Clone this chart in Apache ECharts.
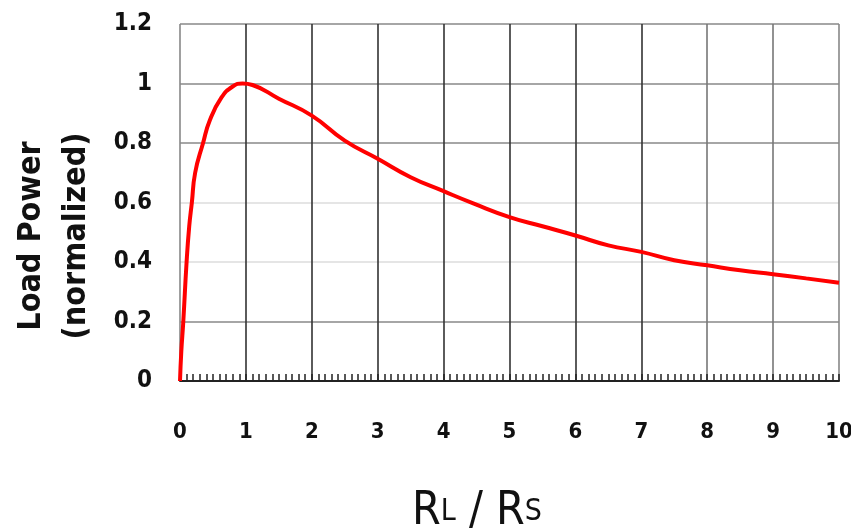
<!DOCTYPE html>
<html><head><meta charset="utf-8">
<script src="https://cdn.jsdelivr.net/npm/echarts@6/dist/echarts.min.js"></script>
<style>html,body{margin:0;padding:0;background:#fff}#c{width:851px;height:532px}</style>
</head><body><div id="c"></div>
<script>
const ratioX = [0, 0.02, 0.05, 0.1, 0.14, 0.18, 0.23, 0.35, 0.45, 0.63, 0.8, 0.95, 1.1, 1.5, 2, 2.5, 3, 3.5, 4, 4.45, 5, 5.5, 6, 6.5, 7, 7.5, 8, 8.5, 9, 9.5, 10];
const loadPower = [0, 0.1, 0.2, 0.4, 0.52, 0.6, 0.7, 0.8, 0.875, 0.953, 0.99, 1.0, 0.995, 0.949, 0.892, 0.808, 0.747, 0.685, 0.638, 0.597, 0.551, 0.52, 0.489, 0.456, 0.434, 0.406, 0.389, 0.372, 0.359, 0.345, 0.33];
const xTicks = [0,1,2,3,4,5,6,7,8,9,10];
const yTicks = [0,0.2,0.4,0.6,0.8,1,1.2];
const yTitleLines = ['Load Power', '(normalized)'];

const FONT = "'DejaVu Sans Condensed', 'Liberation Sans', sans-serif";
const chart = echarts.init(document.getElementById('c'), null, {renderer: 'canvas'});
chart.setOption({
  animation: false,
  backgroundColor: '#fff',
  grid: {left: 180, right: 12, top: 24, bottom: 151, containLabel: false, outerBoundsMode: 'none'},
  xAxis: {
    type: 'value', min: xTicks[0], max: xTicks[xTicks.length-1], interval: 1,
    axisLine: {show: true, lineStyle: {color: '#222', width: 2}},
    axisTick: {show: true, inside: true, length: 7, lineStyle: {color: '#222', width: 1.5}},
    minorTick: {show: true, splitNumber: 10, length: 7, lineStyle: {color: '#222', width: 1.5}},
    splitLine: {show: true, lineStyle: {color: ['#888','#333','#333','#333','#333','#333','#333','#333','#777','#777','#888'], width: 1.6}},
    axisLabel: {margin: 40, fontFamily: FONT, fontWeight: 'bold', fontSize: 22, color: '#111'}
  },
  yAxis: {
    type: 'value', min: yTicks[0], max: yTicks[yTicks.length-1], interval: 0.2,
    axisLine: {show: false},
    axisTick: {show: false},
    splitLine: {show: true, lineStyle: {color: ['#888','#888','#ddd','#ddd','#888','#888','#888'], width: 1.6}},
    axisLabel: {margin: 28, fontFamily: FONT, fontWeight: 'bold', fontSize: 24, color: '#111',
      formatter: v => String(+v.toFixed(1))}
  },
  graphic: [
    {type: 'text', x: 32, y: 236, rotation: Math.PI/2,
     style: {text: yTitleLines[0], fontFamily: FONT, fontWeight: 'bold', fontSize: 32, fill: '#111', align: 'center', verticalAlign: 'middle'}},
    {type: 'text', x: 77, y: 236, rotation: Math.PI/2,
     style: {text: yTitleLines[1], fontFamily: FONT, fontWeight: 'bold', fontSize: 32, fill: '#111', align: 'center', verticalAlign: 'middle'}},
    {type: 'text', left: 412, top: 489,
     style: {
       rich: {
         b: {fontFamily: FONT, fontSize: 46, fill: '#111'},
         s: {fontFamily: FONT, fontSize: 30, fill: '#111'}
       },
       text: '{b|R}{s|L}{b| / R}{s|S}'
     }}
  ],
  series: [{
    type: 'line', data: ratioX.map((x,i)=>[x, loadPower[i]]),
    smooth: 0.5, showSymbol: false,
    lineStyle: {color: '#ff0000', width: 4}, z: 5
  }]
});
</script></body></html>
